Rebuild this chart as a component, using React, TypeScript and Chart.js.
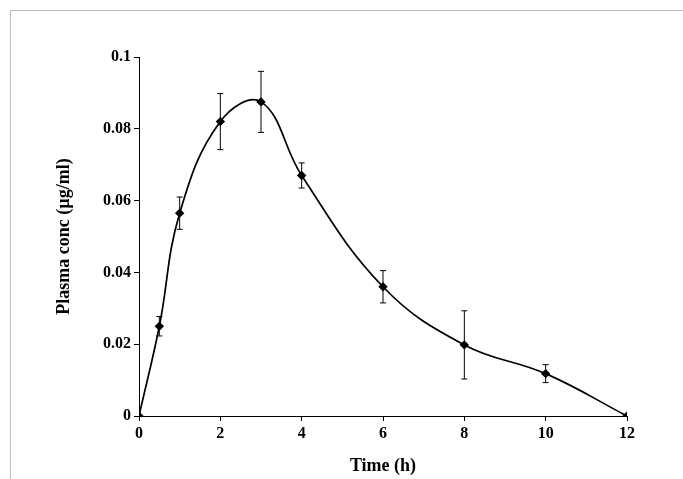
import React, { useEffect, useRef } from "react";
import { Chart, registerables } from "chart.js";

Chart.register(...registerables);

const times = [0, 0.5, 1, 2, 3, 4, 6, 8, 10, 12];
const conc = [0, 0.025, 0.0565, 0.082, 0.0875, 0.067, 0.036, 0.0198, 0.0118, 0];
const errs = [0, 0.0027, 0.0045, 0.0078, 0.0085, 0.0035, 0.0045, 0.0095, 0.0025, 0];

const errorBars = {
  id: "errorBars",
  afterDatasetsDraw(chart: Chart) {
    const { ctx } = chart;
    const x = chart.scales.x;
    const y = chart.scales.y;
    ctx.save();
    ctx.strokeStyle = "#000";
    ctx.lineWidth = 1;
    times.forEach((t, i) => {
      if (!errs[i]) return;
      const px = x.getPixelForValue(t);
      const top = y.getPixelForValue(conc[i] + errs[i]);
      const bot = y.getPixelForValue(conc[i] - errs[i]);
      ctx.beginPath();
      ctx.moveTo(px, top);
      ctx.lineTo(px, bot);
      ctx.moveTo(px - 3, top);
      ctx.lineTo(px + 3, top);
      ctx.moveTo(px - 3, bot);
      ctx.lineTo(px + 3, bot);
      ctx.stroke();
    });
    ctx.restore();
  },
};

const App = () => {
  const canvasRef = useRef<HTMLCanvasElement>(null);

  useEffect(() => {
    document.body.style.margin = "0";
    if (!canvasRef.current) return;
    const font = { family: "'Liberation Serif', serif", weight: "bold" as const, size: 16 };
    const chart = new Chart(canvasRef.current, {
      type: "line",
      data: {
        datasets: [
          {
            data: times.map((t, i) => ({ x: t, y: conc[i] })),
            borderColor: "#000",
            backgroundColor: "#000",
            borderWidth: 1.7,
            tension: 0.4,
            pointStyle: "rectRot",
            pointRadius: 3.5,
          },
        ],
      },
      options: {
        animation: false,
        responsive: false,
        layout: { padding: { top: 57, right: 56, left: 54, bottom: 2 } },
        plugins: { legend: { display: false }, tooltip: { enabled: false } },
        scales: {
          x: {
            type: "linear",
            min: 0,
            max: 12,
            ticks: { stepSize: 2, color: "#000", font },
            grid: { drawOnChartArea: false, tickLength: 5, color: "#000" },
            border: { color: "#000" },
            title: { display: true, text: "Time (h)", color: "#000", font: { ...font, size: 18 }, padding: 0 },
            afterFit: (s: any) => { s.height = 61; },
          },
          y: {
            min: 0,
            max: 0.1,
            ticks: { stepSize: 0.02, color: "#000", font, callback: (v: any) => String(Math.round(Number(v) * 100) / 100) },
            grid: { drawOnChartArea: false, tickLength: 5, color: "#000" },
            border: { color: "#000" },
            title: { display: true, text: "Plasma conc (µg/ml)", color: "#000", font: { ...font, size: 18 }, padding: 0 },
            afterFit: (s: any) => { s.width = 85; },
          },
        },
      },
      plugins: [errorBars],
    });
    return () => chart.destroy();
  }, []);

  return (
    <div style={{ position: "relative", width: 683, height: 479, background: "#fff" }}>
      <div
        style={{
          position: "absolute",
          left: 10,
          top: 10,
          width: 673,
          height: 469,
          borderLeft: "1px solid #bbb",
          borderTop: "1px solid #bbb",
          boxSizing: "border-box",
        }}
      />
      <canvas ref={canvasRef} width={683} height={479} style={{ position: "absolute", left: 0, top: 0 }} />
    </div>
  );
};

export default App;
